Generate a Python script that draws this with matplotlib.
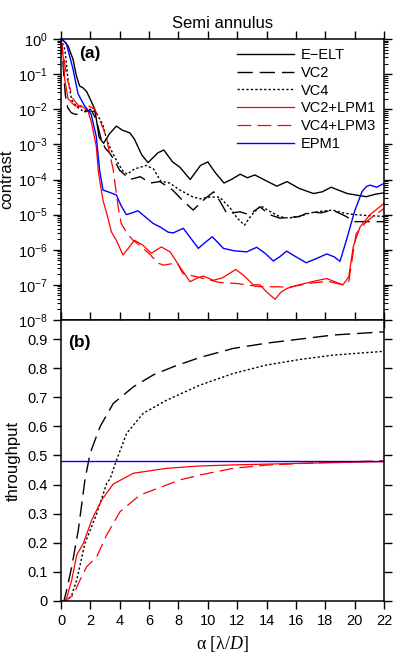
import numpy as np
import matplotlib
matplotlib.use("Agg")
import matplotlib.pyplot as plt
from matplotlib.ticker import LogLocator, LogFormatterMathtext, NullFormatter

plt.rcParams['font.family'] = ['Liberation Sans', 'DejaVu Sans']
plt.rcParams['mathtext.fontset'] = 'custom'
plt.rcParams['mathtext.rm'] = 'Liberation Sans'
plt.rcParams['mathtext.it'] = 'Liberation Serif:italic'

# ---------------- data: contrast (log10) ----------------
a_eelt = [0, 0.14, 0.48, 0.82, 1.05, 1.27, 1.5, 1.75, 2.0, 2.3, 2.6, 2.9, 3.3, 3.77, 4.2, 4.68, 5.0, 5.5, 5.93, 6.6, 7.0, 7.6, 8.1, 8.8, 9.5, 10.0, 10.5, 11.1, 11.6, 12.2, 12.7, 13.2, 13.8, 14.7, 15.4, 16.2, 17.2, 17.8, 18.4, 19.0, 19.5, 20.2, 20.8, 21.4, 22]
l_eelt = [0, -0.03, -0.2, -0.58, -1.05, -1.34, -1.39, -1.5, -1.72, -2.0, -2.8, -2.97, -2.7, -2.48, -2.6, -2.67, -2.85, -3.3, -3.52, -3.24, -3.16, -3.5, -3.65, -4.0, -3.6, -3.5, -3.8, -4.1, -4.0, -3.85, -3.95, -3.87, -4.0, -4.19, -4.06, -4.25, -4.4, -4.35, -4.22, -4.32, -4.4, -4.45, -4.49, -4.42, -4.38]

a_vc2 = [0, 0.1, 0.2, 0.3, 0.45, 0.7, 1.0, 1.4, 1.8, 2.1, 2.4, 2.7, 3.0, 3.34, 3.7, 4.0, 4.7, 5.4, 6.06, 6.74, 7.6, 8.3, 9.0, 9.8, 10.4, 10.8, 11.3, 12.2, 12.8, 13.56, 14.2, 14.9, 16.2, 16.96, 17.7, 18.5, 19.46, 19.9, 21.0, 22]
l_vc2 = [0, -0.4, -1.1, -1.6, -1.95, -2.1, -2.15, -2.1, -2.05, -2.05, -2.3, -2.8, -3.1, -3.26, -3.5, -3.74, -4.0, -3.92, -4.1, -4.06, -4.3, -4.6, -4.87, -4.55, -4.35, -4.6, -4.97, -4.92, -5.0, -4.78, -5.0, -5.1, -5.06, -4.92, -4.95, -4.87, -5.06, -5.2, -5.2, -5.2]

a_vc4 = [0, 0.27, 0.48, 0.73, 1.07, 1.5, 2.0, 2.4, 2.86, 3.1, 3.4, 3.77, 4.2, 4.5, 5.0, 5.8, 6.3, 6.8, 7.4, 8.1, 9.0, 9.5, 10.1, 10.8, 11.5, 12.0, 12.5, 13.0, 13.6, 14.2, 14.9, 15.5, 16.2, 17.0, 17.8, 18.5, 19.2, 20.0, 21.0, 22]
l_vc4 = [0, -0.31, -1.17, -1.74, -1.93, -2.05, -2.0, -2.1, -2.45, -2.85, -3.15, -3.45, -3.75, -3.85, -3.7, -3.6, -3.7, -4.05, -4.1, -4.3, -4.5, -4.55, -4.5, -4.5, -4.8, -5.1, -5.3, -5.0, -4.75, -4.9, -5.06, -5.1, -5.05, -4.95, -4.9, -4.87, -4.95, -5.0, -5.03, -5.05]

a_epm = [0, 0.36, 0.82, 1.16, 1.6, 2.05, 2.4, 2.63, 2.86, 3.2, 3.77, 4.1, 4.45, 4.85, 5.24, 5.7, 6.27, 6.74, 7.3, 7.65, 8.33, 8.8, 9.35, 9.8, 10.3, 10.7, 11.06, 11.8, 12.65, 13.33, 13.9, 14.46, 14.9, 15.37, 16.0, 16.7, 17.4, 18.1, 18.6, 19.0, 19.46, 20.0, 20.5, 20.8, 21.05, 21.5, 22]
l_epm = [0, -0.12, -0.86, -1.56, -1.9, -2.14, -2.77, -3.73, -4.3, -4.35, -4.44, -4.75, -5.0, -4.95, -4.89, -5.05, -5.25, -5.35, -5.5, -5.52, -5.39, -5.65, -5.96, -5.8, -5.63, -5.8, -5.96, -6.03, -6.06, -5.93, -6.1, -6.32, -6.2, -6.04, -6.2, -6.37, -6.25, -6.12, -6.2, -6.33, -5.7, -4.9, -4.35, -4.2, -4.16, -4.22, -4.11]

a_r1 = [0, 0.14, 0.25, 0.48, 0.93, 1.5, 1.84, 2.07, 2.4, 2.55, 2.86, 3.2, 3.43, 3.77, 4.22, 4.6, 5.0, 5.58, 6.15, 6.83, 7.43, 8.1, 8.79, 9.3, 9.7, 10.38, 11.0, 11.9, 12.5, 13.1, 13.56, 14.0, 14.58, 15.0, 15.4, 16.2, 17.2, 18.1, 18.7, 19.2, 19.6, 19.9, 20.37, 21.05, 21.5, 22]
l_r1 = [0, -0.48, -1.14, -1.7, -1.9, -1.94, -2.05, -2.38, -3.05, -3.8, -4.59, -5.1, -5.49, -5.73, -6.15, -5.95, -5.73, -5.87, -6.1, -5.92, -6.06, -6.49, -6.91, -6.8, -6.75, -6.87, -6.8, -6.56, -6.75, -7.0, -7.0, -7.2, -7.41, -7.2, -7.1, -7.0, -6.9, -6.82, -6.92, -7.0, -6.77, -5.92, -5.35, -5.0, -4.85, -4.68]

a_r3 = [0, 0.1, 0.25, 0.4, 0.6, 0.82, 1.2, 1.85, 2.3, 2.63, 3.08, 3.3, 3.55, 3.77, 3.9, 4.1, 4.45, 4.9, 5.3, 5.7, 6.1, 6.6, 7.0, 7.5, 7.9, 8.3, 9.25, 10.0, 10.8, 11.95, 13.5, 15.6, 17.0, 18.2, 19.2, 19.6, 20.1, 20.8, 21.4, 22]
l_r3 = [0, -0.3, -0.7, -1.1, -1.4, -1.7, -1.9, -1.9, -2.0, -2.29, -2.77, -3.24, -3.7, -4.4, -4.8, -5.25, -5.5, -5.73, -5.85, -6.0, -6.15, -6.38, -6.44, -6.4, -6.36, -6.68, -6.77, -6.85, -6.93, -6.96, -7.05, -7.06, -6.95, -6.9, -7.0, -6.9, -5.54, -5.2, -5.0, -4.83]

# ---------------- data: throughput ----------------
ta_vc2 = [0, 0.2, 0.39, 0.73, 1.18, 1.63, 1.98, 2.66, 3.56, 4.93, 6.29, 7.65, 9.47, 11.74, 14.0, 16.28, 18.55, 22]
t_vc2 = [0, 0, 0.038, 0.118, 0.244, 0.416, 0.507, 0.599, 0.679, 0.736, 0.777, 0.805, 0.837, 0.868, 0.886, 0.9, 0.914, 0.925]

ta_vc4 = [0, 0.39, 0.73, 1.07, 1.63, 2.43, 3.11, 3.34, 3.79, 4.47, 5.6, 7.2, 9.47, 11.74, 14.0, 16.28, 18.55, 22]
t_vc4 = [0, 0, 0.02, 0.072, 0.198, 0.30, 0.404, 0.42, 0.485, 0.576, 0.645, 0.69, 0.742, 0.782, 0.811, 0.83, 0.845, 0.858]

ta_epm = [0, 22]
t_epm = [0.48, 0.48]

ta_r1 = [0, 0.2, 0.39, 0.73, 1.07, 1.52, 2.09, 2.77, 3.56, 4.93, 7.2, 9.47, 12.0, 16.28, 22]
t_r1 = [0, 0, 0.01, 0.072, 0.158, 0.198, 0.278, 0.347, 0.402, 0.439, 0.456, 0.464, 0.468, 0.473, 0.479]

ta_r3 = [0, 0.27, 0.84, 1.29, 1.75, 2.43, 3.11, 4.02, 5.38, 8.1, 9.47, 11.74, 14.0, 17.4, 22]
t_r3 = [0, 0, 0.02, 0.072, 0.118, 0.152, 0.227, 0.307, 0.364, 0.416, 0.433, 0.456, 0.467, 0.475, 0.482]

labels = ['E\u2212ELT', 'VC2', 'VC4', 'VC2+LPM1', 'VC4+LPM3', 'EPM1']
xticks = list(range(0, 23, 2))
tticks = [0, 0.1, 0.2, 0.3, 0.4, 0.5, 0.6, 0.7, 0.8, 0.9]
tlabels = ['0', '0.1', '0.2', '0.3', '0.4', '0.5', '0.6', '0.7', '0.8', '0.9']

# ---------------- figure ----------------
fig = plt.figure(figsize=(3.99, 6.57), dpi=100)
L, W = 61 / 399, 323 / 399
ax1 = fig.add_axes([L, 1 - 320 / 657, W, 281 / 657])
ax2 = fig.add_axes([L, 1 - 601 / 657, W, 281 / 657])

DASH = (11, 5)
DOT = (1.6, 1.6)
styles = [
    dict(color='black', lw=1.0),
    dict(color='black', lw=1.0, dashes=DASH),
    dict(color='black', lw=1.0, dashes=DOT),
    dict(color='red', lw=0.9),
    dict(color='red', lw=0.9, dashes=DASH),
    dict(color='blue', lw=1.0),
]

curves = [(a_eelt, l_eelt), (a_vc2, l_vc2), (a_vc4, l_vc4), (a_r1, l_r1), (a_r3, l_r3), (a_epm, l_epm)]
handles = []
for (xa, la), st, lab in zip(curves, styles, labels):
    h, = ax1.plot(xa, 10.0 ** np.array(la), label=lab, **st)
    handles.append(h)

ax1.set_yscale('log')
ax1.set_xlim(0, 22)
ax1.set_ylim(1e-8, 1)
ax1.yaxis.set_major_locator(LogLocator(base=10, numticks=20))
ax1.yaxis.set_minor_locator(LogLocator(base=10, subs=np.arange(2, 10), numticks=20))
ax1.yaxis.set_major_formatter(LogFormatterMathtext())
ax1.yaxis.set_minor_formatter(NullFormatter())
ax1.set_xticks(xticks)
ax1.tick_params(axis='x', which='both', top=True, bottom=True, labelbottom=False, direction='out', length=6, width=1)
ax1.tick_params(axis='y', which='major', left=True, right=True, direction='out', length=6, width=1, labelsize=10.5)
ax1.tick_params(axis='y', which='minor', left=True, right=True, direction='out', length=3, width=0.8)
ax1.set_ylabel('contrast', fontsize=12, labelpad=3)
ax1.set_title('Semi annulus', fontsize=12, pad=8)
ax1.text(0.056, 0.975, '(a)', transform=ax1.transAxes, fontsize=12.5, fontweight='bold', va='top', ha='left')

leg = ax1.legend(handles=handles, loc='upper left', bbox_to_anchor=(0.545, 0.968), frameon=False,
                 fontsize=10.5, handlelength=3.9, handletextpad=0.45, labelspacing=0.26, borderpad=0,
                 borderaxespad=0)

# throughput
tcurves = [(ta_vc2, t_vc2, styles[1]), (ta_vc4, t_vc4, styles[2]), (ta_r1, t_r1, styles[3]),
           (ta_r3, t_r3, styles[4]), (ta_epm, t_epm, styles[5])]
for xa, ya, st in tcurves:
    ax2.plot(xa, ya, **st)

ax2.set_xlim(0, 22)
ax2.set_ylim(0, 0.9656)
ax2.set_xticks(xticks)
ax2.set_xticklabels([str(v) for v in xticks])
ax2.set_yticks(tticks)
ax2.set_yticklabels(tlabels)
ax2.tick_params(axis='x', top=True, bottom=True, direction='out', length=6, width=1, labelsize=10.5)
ax2.tick_params(axis='y', left=True, right=True, direction='out', length=6, width=1, labelsize=10.5)
ax2.set_ylabel('throughput', fontsize=12, labelpad=5)
ax2.set_xlabel('\u03b1 [\u03bb/$\\mathit{D}$]', fontsize=13, family='Liberation Serif', labelpad=4)
ax2.text(0.022, 0.947, '(b)', transform=ax2.transAxes, fontsize=12.5, fontweight='bold', va='top', ha='left')

for ax in (ax1, ax2):
    for sp in ax.spines.values():
        sp.set_linewidth(1.1)

fig.savefig('out.png', dpi=100)
